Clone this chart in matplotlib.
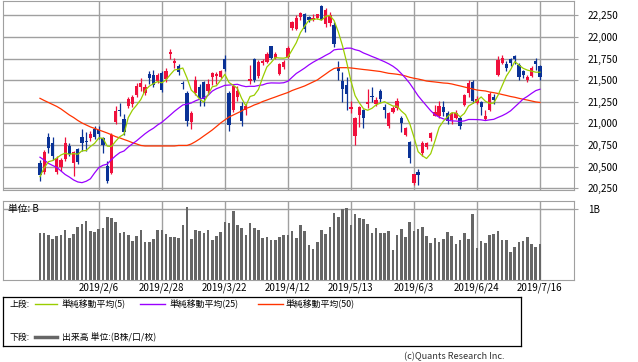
import numpy as np
import matplotlib
matplotlib.use('Agg')
import matplotlib.pyplot as plt

plt.rcParams['font.family'] = ['Noto Sans CJK JP', 'DejaVu Sans']

# trading days shown (2019/1/17 - 2019/7/16)
month_days = {
    1: [17, 18, 21, 22, 23, 24, 25, 28, 29, 30, 31],
    2: [1, 4, 5, 6, 7, 8, 12, 13, 14, 15, 18, 19, 20, 21, 22, 25, 26, 27, 28],
    3: [1, 4, 5, 6, 7, 8, 11, 12, 13, 14, 15, 18, 19, 20, 22, 25, 26, 27, 28, 29],
    4: [1, 2, 3, 4, 5, 8, 9, 10, 11, 12, 15, 16, 17, 18, 19, 22, 23, 24, 25, 26],
    5: [7, 8, 9, 10, 13, 14, 15, 16, 17, 20, 21, 22, 23, 24, 27, 28, 29, 30, 31],
    6: [3, 4, 5, 6, 7, 10, 11, 12, 13, 14, 17, 18, 19, 20, 21, 24, 25, 26, 27, 28],
    7: [1, 2, 3, 4, 5, 8, 9, 10, 11, 12, 16],
}
dates = ['2019/%d/%d' % (m, d) for m, ds in month_days.items() for d in ds]

tick_labels = ['2019/2/6', '2019/2/28', '2019/3/22', '2019/4/12',
               '2019/5/13', '2019/6/3', '2019/6/24', '2019/7/16']

opens = [20540, 20438, 20843, 20773, 20440, 20500, 20589, 20740, 20540, 20700,
         20843, 20800, 20830, 20940, 20925, 20830, 20510, 20430, 21015, 21160,
         21050, 21200, 21220, 21330, 21420, 21350, 21570, 21560, 21490, 21580,
         21510, 21800, 21700, 21660, 21470, 21350, 21020, 21350, 21420, 21480,
         21370, 21540, 21550, 21540, 21740, 21350, 21150, 21300, 21200, 21160,
         21490, 21740, 21550, 21700, 21710, 21890, 21760, 21570, 21650, 21770,
         22100, 22090, 22230, 22260, 22230, 22200, 22220, 22360, 22150, 22160,
         22140, 21640, 21490, 21440, 21170, 20860, 21100, 21150, 21230, 21310,
         21220, 21380, 21190, 20970, 21130, 21180, 21060, 20870, 20780, 20310,
         20440, 20660, 20730, 20830, 21090, 21090, 21190, 21120, 21040, 21060,
         21060, 21210, 21350, 21480, 21240, 21250, 21050, 21150, 21310, 21560,
         21700, 21690, 21740, 21780, 21680, 21600, 21500, 21550, 21720, 21660]
highs = [20580, 20690, 20893, 20840, 20620, 20600, 20840, 20770, 20680, 20720,
         20930, 20900, 20910, 20970, 20970, 20840, 20570, 20890, 21200, 21240,
         21110, 21300, 21330, 21470, 21520, 21450, 21610, 21620, 21580, 21600,
         21640, 21860, 21760, 21690, 21490, 21370, 21140, 21550, 21450, 21490,
         21510, 21590, 21590, 21620, 21790, 21380, 21430, 21430, 21250, 21230,
         21680, 21760, 21730, 21750, 21830, 21900, 21830, 21700, 21730, 21890,
         22180, 22250, 22290, 22280, 22240, 22270, 22270, 22370, 22330, 22290,
         22170, 21720, 21590, 21535, 21260, 21070, 21200, 21170, 21400, 21420,
         21300, 21400, 21220, 21130, 21200, 21290, 21080, 20960, 20800, 20420,
         20470, 20800, 20790, 20900, 21210, 21260, 21260, 21140, 21130, 21150,
         21090, 21340, 21500, 21500, 21320, 21260, 21150, 21360, 21340, 21780,
         21790, 21720, 21760, 21790, 21700, 21620, 21560, 21660, 21760, 21670]
lows = [20330, 20420, 20662, 20580, 20420, 20450, 20560, 20620, 20390, 20530,
        20685, 20680, 20800, 20820, 20820, 20660, 20315, 20420, 20990, 21080,
        20870, 21180, 21190, 21300, 21380, 21330, 21450, 21420, 21470, 21360,
        21480, 21740, 21640, 21560, 21400, 20970, 20930, 21330, 21200, 21200,
        21350, 21440, 21450, 21520, 21600, 20910, 21130, 21260, 20970, 21100,
        21460, 21480, 21530, 21680, 21700, 21740, 21740, 21560, 21630, 21760,
        22080, 22080, 22190, 22060, 22170, 22180, 22210, 22190, 22110, 22130,
        21880, 21500, 21250, 21155, 21120, 20750, 20960, 20950, 21180, 21250,
        21200, 21250, 21060, 20950, 21120, 21150, 20900, 20850, 20540, 20290,
        20290, 20620, 20700, 20800, 21080, 21060, 21090, 20990, 20990, 21050,
        20930, 21200, 21300, 21240, 21220, 21100, 21040, 21140, 21230, 21550,
        21690, 21610, 21660, 21690, 21500, 21530, 21480, 21540, 21620, 21500]
closes = [20402, 20666, 20719, 20622, 20593, 20574, 20773, 20649, 20664, 20556,
          20773, 20788, 20883, 20844, 20874, 20751, 20333, 20864, 21144, 21139,
          20900, 21281, 21302, 21431, 21464, 21425, 21528, 21449, 21556, 21385,
          21602, 21822, 21726, 21596, 21456, 21025, 21125, 21503, 21290, 21287,
          21450, 21584, 21566, 21608, 21627, 20977, 21428, 21378, 21033, 21205,
          21509, 21505, 21713, 21724, 21807, 21761, 21802, 21687, 21711, 21870,
          22169, 22221, 22277, 22090, 22200, 22217, 22259, 22200, 22307, 22258,
          21923, 21602, 21402, 21344, 21191, 21067, 21188, 21062, 21250, 21301,
          21272, 21283, 21151, 21117, 21182, 21260, 21003, 20942, 20601, 20410,
          20408, 20776, 20774, 20884, 21134, 21204, 21129, 21032, 21116, 21124,
          20972, 21333, 21462, 21258, 21285, 21193, 21086, 21338, 21275, 21729,
          21754, 21638, 21702, 21746, 21534, 21565, 21533, 21643, 21685, 21535]

ma5 = [20384, 20485, 20557, 20570, 20600, 20635, 20656, 20642, 20651, 20643,
       20683, 20686, 20733, 20769, 20832, 20828, 20737, 20733, 20793, 20846,
       20876, 21066, 21153, 21211, 21276, 21381, 21430, 21459, 21484, 21469,
       21504, 21563, 21618, 21626, 21640, 21525, 21386, 21341, 21280, 21246,
       21331, 21423, 21435, 21499, 21567, 21472, 21441, 21404, 21289, 21204,
       21311, 21326, 21393, 21531, 21652, 21702, 21761, 21756, 21754, 21766,
       21848, 21932, 22050, 22125, 22191, 22201, 22209, 22193, 22237, 22248,
       22189, 22058, 21898, 21706, 21492, 21321, 21238, 21170, 21152, 21174,
       21215, 21234, 21251, 21225, 21201, 21199, 21143, 21101, 20998, 20843,
       20673, 20627, 20594, 20650, 20795, 20954, 21025, 21077, 21123, 21121,
       21075, 21115, 21201, 21230, 21262, 21306, 21257, 21232, 21235, 21324,
       21436, 21547, 21620, 21714, 21675, 21637, 21616, 21604, 21592, 21592]
ma25 = [20609, 20576, 20538, 20514, 20491, 20450, 20409, 20380, 20346, 20323,
        20315, 20331, 20359, 20427, 20489, 20516, 20529, 20581, 20625, 20662,
        20681, 20726, 20764, 20799, 20840, 20880, 20915, 20944, 20982, 21013,
        21054, 21096, 21139, 21177, 21213, 21223, 21236, 21261, 21279, 21295,
        21323, 21373, 21401, 21420, 21440, 21443, 21448, 21452, 21436, 21425,
        21429, 21428, 21438, 21445, 21462, 21468, 21467, 21466, 21470, 21487,
        21533, 21577, 21608, 21640, 21676, 21707, 21734, 21759, 21787, 21812,
        21850, 21857, 21858, 21870, 21870, 21852, 21840, 21814, 21795, 21774,
        21755, 21734, 21713, 21689, 21661, 21625, 21576, 21523, 21463, 21392,
        21319, 21260, 21203, 21146, 21101, 21072, 21053, 21039, 21029, 21027,
        21023, 21029, 21045, 21045, 21044, 21041, 21033, 21041, 21047, 21069,
        21089, 21114, 21145, 21190, 21235, 21282, 21312, 21347, 21379, 21395]
ma50 = [21290, 21265, 21242, 21219, 21196, 21167, 21132, 21097, 21068, 21034,
        21005, 20982, 20959, 20942, 20924, 20907, 20889, 20869, 20847, 20832,
        20814, 20797, 20777, 20762, 20745, 20739, 20739, 20739, 20739, 20739,
        20739, 20739, 20739, 20745, 20745, 20745, 20762, 20789, 20820, 20855,
        20889, 20924, 20964, 21005, 21040, 21074, 21097, 21120, 21144, 21172,
        21190, 21213, 21230, 21253, 21270, 21288, 21305, 21323, 21340, 21357,
        21380, 21398, 21415, 21433, 21456, 21479, 21502, 21537, 21571, 21606,
        21635, 21644, 21644, 21644, 21641, 21635, 21629, 21623, 21618, 21612,
        21606, 21600, 21589, 21579, 21574, 21568, 21560, 21548, 21533, 21522,
        21513, 21502, 21490, 21484, 21479, 21473, 21467, 21464, 21456, 21444,
        21433, 21421, 21409, 21398, 21386, 21380, 21375, 21363, 21355, 21346,
        21334, 21323, 21311, 21302, 21290, 21279, 21270, 21259, 21248, 21242]

# volume, billion shares
volume = [0.657, 0.657, 0.634, 0.577, 0.620, 0.634, 0.704, 0.592, 0.648, 0.746,
          0.789, 0.831, 0.690, 0.676, 0.723, 0.732, 0.887, 0.869, 0.817, 0.662,
          0.676, 0.634, 0.549, 0.620, 0.704, 0.531, 0.531, 0.577, 0.704, 0.704,
          0.648, 0.606, 0.606, 0.592, 0.775, 1.028, 0.577, 0.704, 0.690, 0.662,
          0.704, 0.563, 0.620, 0.676, 0.817, 0.803, 0.972, 0.775, 0.732, 0.634,
          0.803, 0.732, 0.704, 0.592, 0.606, 0.563, 0.563, 0.606, 0.634, 0.634,
          0.690, 0.592, 0.775, 0.690, 0.493, 0.437, 0.535, 0.704, 0.648, 0.746,
          0.944, 0.887, 1.000, 1.014, 0.775, 0.930, 0.873, 0.859, 0.789, 0.662,
          0.732, 0.662, 0.662, 0.690, 0.423, 0.634, 0.718, 0.606, 0.817, 0.690,
          0.718, 0.746, 0.620, 0.521, 0.592, 0.535, 0.577, 0.676, 0.620, 0.507,
          0.563, 0.662, 0.577, 0.930, 0.451, 0.549, 0.521, 0.634, 0.648, 0.690,
          0.563, 0.563, 0.394, 0.465, 0.535, 0.549, 0.606, 0.507, 0.465, 0.507]

price_ticks = [20250, 20500, 20750, 21000, 21250, 21500, 21750, 22000, 22250]

W, H = 638, 362
fig = plt.figure(figsize=(W / 100, H / 100), dpi=100)
fig.patch.set_facecolor('white')

def px_axes(x0, y0, x1, y1):
    return fig.add_axes([x0 / W, 1 - y1 / H, (x1 - x0) / W, (y1 - y0) / H])

grid_c = '#a0a0a0'
up_c = '#f0103c'
down_c = '#0a3296'

o = np.array(opens); c = np.array(closes)
h = np.array(highs); l = np.array(lows)
x = np.arange(len(dates))
tick_pos = [dates.index(t) for t in tick_labels]
xlim = (-8.8, 127.1)

# ---- price panel
ax = px_axes(3, 1, 574, 190)
ax.set_xlim(*xlim)
ax.set_ylim(20230, 22415)
for v in price_ticks:
    ax.axhline(v, color=grid_c, lw=1.0, zorder=0)
for p in tick_pos:
    ax.axvline(p, color=grid_c, lw=1.0, zorder=0)

up = c >= o
cols = np.where(up, up_c, down_c)
ax.vlines(x, l, h, colors=cols, lw=0.9, zorder=2)
body_lo = np.minimum(o, c)
body_h = np.maximum(np.abs(c - o), 10)
ax.bar(x, body_h, bottom=body_lo, width=0.78, color=cols, lw=0, zorder=3)

ax.plot(x, ma50, color='#ff3300', lw=0.9, zorder=4)
ax.plot(x, ma25, color='#9a00ff', lw=0.9, zorder=4)
ax.plot(x, ma5, color='#9acd00', lw=0.9, zorder=5)

ax.yaxis.tick_right()
ax.set_yticks(price_ticks)
ax.set_yticklabels(['{:,}'.format(v) for v in price_ticks], fontsize=7.2)
ax.tick_params(axis='y', length=3, color=grid_c, pad=7)
ax.set_xticks([])
for s in ax.spines.values():
    s.set_color(grid_c)

# ---- volume panel
axv = px_axes(3, 201, 574, 280)
axv.set_xlim(*xlim)
axv.set_ylim(0, 1.113)
axv.axhline(1.0, color=grid_c, lw=1.0, zorder=0)
for p in tick_pos:
    axv.axvline(p, color=grid_c, lw=1.0, zorder=0)
axv.bar(x, volume, width=0.62, color='#666666', lw=0, zorder=2)
axv.yaxis.tick_right()
axv.set_yticks([1.0])
axv.set_yticklabels(['1B'], fontsize=7)
axv.tick_params(axis='y', length=3, color=grid_c, pad=7)
axv.set_xticks(tick_pos)
axv.set_xticklabels(tick_labels, fontsize=7)
axv.tick_params(axis='x', length=0, pad=2)
for s in axv.spines.values():
    s.set_color(grid_c)
axv.text(5 / 571, 1.0, '単位: B', transform=axv.get_yaxis_transform(),
         fontsize=7, va='center', ha='left', zorder=5)

# ---- legend box
lg = px_axes(3, 297, 521, 346)
lg.set_xlim(0, 518)
lg.set_ylim(49, 0)
lg.set_xticks([]); lg.set_yticks([])
for s in lg.spines.values():
    s.set_color('black'); s.set_linewidth(0.9)
fs = 6.4
ty1, ty2 = 7.5, 40.5
lg.text(7, ty1, '上段:', fontsize=fs, va='center')
lg.plot([32, 54], [ty1 - 0.5] * 2, color='#9acd00', lw=1)
lg.text(59, ty1, '単純移動平均(5)', fontsize=fs, va='center')
lg.plot([137, 162], [ty1 - 0.5] * 2, color='#9a00ff', lw=1)
lg.text(166, ty1, '単純移動平均(25)', fontsize=fs, va='center')
lg.plot([255, 280], [ty1 - 0.5] * 2, color='#ff3300', lw=1)
lg.text(283, ty1, '単純移動平均(50)', fontsize=fs, va='center')
lg.text(7, ty2, '下段:', fontsize=fs, va='center')
lg.plot([32, 54], [ty2 - 0.5] * 2, color='#666666', lw=2.5)
lg.text(59, ty2, '出来高 単位:(B株/口/枚)', fontsize=fs, va='center')

fig.text(505 / W, 1 - 357 / H, '(c)Quants Research Inc.', fontsize=6.6,
         ha='right', va='center', color='#333333')

fig.savefig('out.png', dpi=100)
